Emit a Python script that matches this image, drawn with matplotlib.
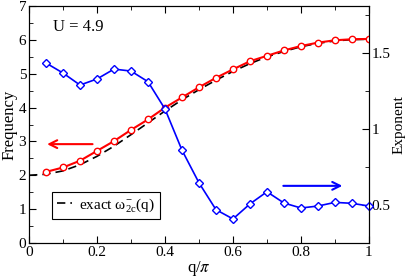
import matplotlib
matplotlib.use('Agg')
import matplotlib.pyplot as plt
import numpy as np

plt.rcParams['font.family'] = ['Liberation Serif', 'DejaVu Serif']
plt.rcParams['mathtext.fontset'] = 'stix'

# Data
q = [0.05, 0.10, 0.15, 0.20, 0.25, 0.30, 0.35, 0.40, 0.45, 0.50,
     0.55, 0.60, 0.65, 0.70, 0.75, 0.80, 0.85, 0.90, 0.95, 1.00]
frequency = [2.10, 2.23, 2.43, 2.72, 3.01, 3.34, 3.65, 4.00, 4.30, 4.60,
             4.88, 5.13, 5.37, 5.53, 5.69, 5.82, 5.92, 5.99, 6.02, 6.03]
exponent = [1.435, 1.369, 1.29, 1.33, 1.395, 1.382, 1.312, 1.132, 0.861, 0.646,
            0.469, 0.408, 0.507, 0.587, 0.513, 0.480, 0.493, 0.517, 0.511, 0.493]

q_exact = [0.0, 0.05, 0.10, 0.15, 0.20, 0.25, 0.30, 0.35, 0.40, 0.45, 0.50,
           0.55, 0.60, 0.65, 0.70, 0.75, 0.80, 0.85, 0.90, 0.95, 1.00]
omega_exact = [2.00, 2.03, 2.13, 2.31, 2.56, 2.86, 3.20, 3.55, 3.90, 4.23, 4.53,
               4.81, 5.07, 5.30, 5.50, 5.66, 5.80, 5.90, 5.97, 6.01, 6.02]

fig = plt.figure(figsize=(4.09, 2.77), dpi=100)
ax = fig.add_axes([0.071, 0.123, 0.831, 0.855])
ax2 = ax.twinx()

ax.plot(q_exact, omega_exact, color='black', ls=(0, (5, 3)), lw=1.2,
        label=r'exact $\mathregular{ω_{2c}^{-}(q)}$', zorder=2)
ax.plot(q, frequency, color='red', lw=1.5, marker='o', ms=4.6,
        mfc='white', mec='red', mew=1.0, zorder=3)
ax2.plot(q, exponent, color='blue', lw=1.2, marker='D', ms=3.6,
         mfc='white', mec='blue', mew=1.0, clip_on=False)

ax.set_xlim(0, 1)
ax.set_ylim(0, 7)
ax2.set_ylim(0.25, 1.81)

ax.set_xticks([0, 0.2, 0.4, 0.6, 0.8, 1.0])
ax.set_xticklabels(['0', '0.2', '0.4', '0.6', '0.8', '1'])
ax.set_xticks(np.arange(0.1, 1.0, 0.2), minor=True)
ax.set_yticks(range(0, 8))
ax.set_yticks(np.arange(0.5, 7, 1), minor=True)
ax2.set_yticks([0.5, 1.0, 1.5])
ax2.set_yticklabels(['0.5', '1', '1.5'])
ax2.set_yticks([0.75, 1.25, 1.75], minor=True)

ax.tick_params(which='both', direction='in', top=True, labelsize=11, pad=2)
ax.tick_params(which='major', length=5)
ax.tick_params(which='minor', length=3)
ax2.tick_params(which='both', direction='in', labelsize=11, pad=2)
ax2.tick_params(which='major', length=5)
ax2.tick_params(which='minor', length=3)

ax.set_xlabel(r'q/$\pi$', fontsize=12, labelpad=0)
ax.set_ylabel('Frequency', fontsize=12, labelpad=1)
ax2.set_ylabel('Exponent', fontsize=11, labelpad=1)

ax.text(0.07, 6.25, 'U = 4.9', fontsize=12)

ax.annotate('', xy=(0.045, 2.92), xytext=(0.195, 2.92),
            arrowprops=dict(arrowstyle='->', color='red', lw=1.5,
                            mutation_scale=14))
ax2.annotate('', xy=(0.93, 0.626), xytext=(0.74, 0.626),
             arrowprops=dict(arrowstyle='->', color='blue', lw=1.5,
                             mutation_scale=14))

leg = ax.legend(loc='lower left', bbox_to_anchor=(0.045, 0.07), fontsize=11,
                handlelength=1.0, handletextpad=0.5, borderpad=0.3,
                fancybox=False, framealpha=1, edgecolor='black')
leg.get_frame().set_linewidth(0.8)

fig.savefig('out.png', dpi=100)
